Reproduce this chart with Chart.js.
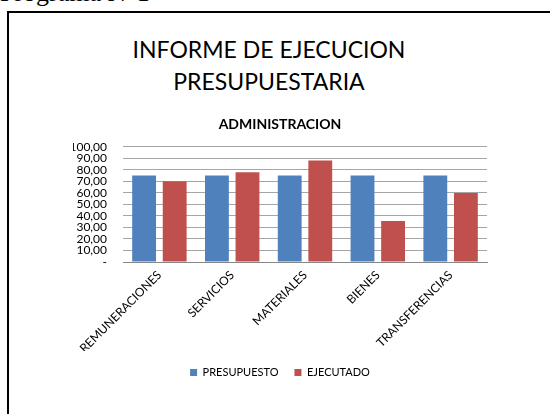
<!DOCTYPE html>
<html>
<head>
<meta charset="utf-8">
<script src="https://cdn.jsdelivr.net/npm/chart.js@4"></script>
<style>
  html, body { margin: 0; padding: 0; background: #fff; }
  body { width: 550px; height: 414px; position: relative; overflow: hidden; }
  #top { position: absolute; left: 0; top: -22px; font: 26px "Liberation Serif", serif; color: #000; white-space: nowrap; }
  #box { position: absolute; left: 7px; top: 11px; width: 600px; height: 500px; border: 2px solid #000; }
  #head { position: absolute; left: 0; top: 33px; width: 538px; text-align: center; font: 23px Lato, sans-serif; line-height: 32px; color: #000; }
  #chart { position: absolute; left: 0; top: 0; }
</style>
</head>
<body>
<div id="top">Programa N°1</div>
<div id="box"></div>
<div id="head">INFORME DE EJECUCION<br>PRESUPUESTARIA</div>
<canvas id="chart" width="550" height="414"></canvas>
<script>
// datos
const categorias = ['REMUNERACIONES', 'SERVICIOS', 'MATERIALES', 'BIENES', 'TRANSFERENCIAS'];
const presupuesto = [75, 75, 75, 75, 75];
const ejecutado = [70, 78, 88, 35.5, 60];
const yTicks = [0, 10, 20, 30, 40, 50, 60, 70, 80, 90, 100];
const yTickLabels = ['-', '10,00', '20,00', '30,00', '40,00', '50,00', '60,00', '70,00', '80,00', '90,00', '100,00'];

const fuente = 'Lato, "Open Sans", sans-serif';

const ctx = document.getElementById('chart').getContext('2d');
const myChart = new Chart(ctx, {
    type: 'bar',
    data: {
        labels: categorias,
        datasets: [{
            label: 'PRESUPUESTO',
            data: presupuesto,
            backgroundColor: '#4F81BD'
        }, {
            label: 'EJECUTADO',
            data: ejecutado,
            backgroundColor: '#C0504D'
        }]
    },
    options: {
        responsive: false,
        animation: false,
        devicePixelRatio: 1,
        layout: { padding: { left: 73, right: 63, top: 116, bottom: 26 } },
        datasets: { bar: { categoryPercentage: 0.84, barPercentage: 0.78 } },
        scales: {
            x: {
                grid: { display: false, drawTicks: false },
                border: { display: true, color: '#878787', width: 1 },
                ticks: {
                    minRotation: 45, maxRotation: 45, autoSkip: false,
                    padding: 6, color: '#000', font: { family: fuente, size: 12 }
                },
                afterFit: (scale) => { scale.height = 89; }
            },
            y: {
                min: 0, max: 100,
                grid: { color: '#a6a6a6', drawTicks: false },
                border: { display: false },
                afterBuildTicks: (scale) => { scale.ticks = yTicks.map(v => ({ value: v })); },
                ticks: {
                    autoSkip: false,
                    padding: 16, color: '#000', font: { family: fuente, size: 12 },
                    callback: (value) => yTickLabels[yTicks.indexOf(value)]
                },
                afterFit: (scale) => { scale.width = 50; }
            }
        },
        plugins: {
            title: {
                display: true, text: 'ADMINISTRACION', color: '#000',
                font: { family: fuente, size: 14, weight: 'bold' },
                padding: { top: 0, bottom: 14 }
            },
            legend: {
                position: 'bottom',
                labels: {
                    boxWidth: 7, boxHeight: 7, padding: 16, color: '#000',
                    font: { family: fuente, size: 11 }
                }
            },
            tooltip: { enabled: false }
        }
    }
});
</script>
</body>
</html>
